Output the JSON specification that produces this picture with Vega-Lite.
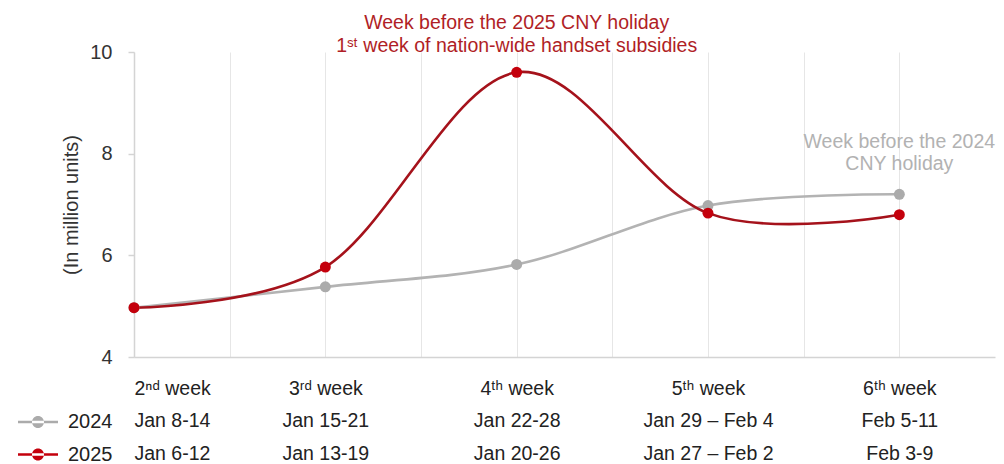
{
  "$schema": "https://vega.github.io/schema/vega-lite/v6.json",
  "autosize": {"type": "none"},
  "width": 861,
  "height": 305,
  "padding": {"left": 134, "top": 52, "right": 9, "bottom": 107},
  "background": "white",
  "config": {
    "font": "Liberation Sans",
    "view": {"stroke": null}
  },
  "data": {
    "values": [
      {"week": 2, "year": "2024", "units": 4.97, "note": ""},
      {"week": 3, "year": "2024", "units": 5.38, "note": ""},
      {"week": 4, "year": "2024", "units": 5.82, "note": ""},
      {"week": 5, "year": "2024", "units": 6.98, "note": ""},
      {"week": 6, "year": "2024", "units": 7.2, "note": "Week before the 2024\nCNY holiday"},
      {"week": 2, "year": "2025", "units": 4.97, "note": ""},
      {"week": 3, "year": "2025", "units": 5.77, "note": ""},
      {"week": 4, "year": "2025", "units": 9.6, "note": "Week before the 2025 CNY holiday\n1ˢᵗ week of nation-wide handset subsidies"},
      {"week": 5, "year": "2025", "units": 6.83, "note": ""},
      {"week": 6, "year": "2025", "units": 6.8, "note": ""}
    ]
  },
  "encoding": {
    "x": {
      "field": "week",
      "type": "quantitative",
      "scale": {"domain": [2, 6.5], "nice": false, "zero": false},
      "axis": {
        "title": null,
        "values": [2, 2.5, 3, 3.5, 4, 4.5, 5, 5.5, 6],
        "grid": true,
        "gridColor": "#e6e6e6",
        "gridWidth": 1,
        "ticks": false,
        "domain": true,
        "domainColor": "#d4d4d4",
        "domainWidth": 1.5,
        "labelFontSize": 19.5,
        "labelColor": "#222222",
        "labelPadding": 22,
        "labelLineHeight": 32.5,
        "labelBaseline": "top",
        "labelOverlap": false,
        "labelBound": false,
        "labelFlush": true,
        "labelFlushOffset": 0,
        "labelExpr": "datum.value == 2 ? ['2ⁿᵈ week', 'Jan 8-14', 'Jan 6-12'] : datum.value == 3 ? ['3ʳᵈ week', 'Jan 15-21', 'Jan 13-19'] : datum.value == 4 ? ['4ᵗʰ week', 'Jan 22-28', 'Jan 20-26'] : datum.value == 5 ? ['5ᵗʰ week', 'Jan 29 – Feb 4', 'Jan 27 – Feb 2'] : datum.value == 6 ? ['6ᵗʰ week', 'Feb 5-11', 'Feb 3-9'] : ''"
      }
    },
    "y": {
      "field": "units",
      "type": "quantitative",
      "scale": {"domain": [4, 10], "nice": false, "zero": false},
      "axis": {
        "title": "(In million units)",
        "titleFontSize": 20,
        "titleFontWeight": "normal",
        "titleColor": "#333333",
        "titlePadding": 8,
        "values": [4, 6, 8, 10],
        "grid": false,
        "domain": true,
        "domainColor": "#d4d4d4",
        "domainWidth": 1.5,
        "ticks": true,
        "tickColor": "#d4d4d4",
        "tickSize": 6,
        "tickWidth": 1.5,
        "labelFontSize": 20,
        "labelColor": "#333333",
        "labelPadding": 16
      }
    }
  },
  "layer": [
    {
      "mark": {"type": "line", "interpolate": "cardinal", "strokeWidth": 2.6},
      "encoding": {
        "color": {
          "field": "year",
          "type": "nominal",
          "scale": {"domain": ["2024", "2025"], "range": ["#b3b3b3", "#a5121b"]},
          "legend": null
        }
      }
    },
    {
      "layer": [
        {
          "mark": {"type": "point", "filled": true, "size": 120, "opacity": 1},
          "encoding": {
            "color": {
              "field": "year",
              "type": "nominal",
              "scale": {"domain": ["2024", "2025"], "range": ["#ababab", "#c4000c"]},
              "legend": {
                "title": null,
                "orient": "none",
                "legendX": -106,
                "legendY": 360,
                "padding": 0,
                "symbolType": "M-2,-0.12H2V0.12H-2Z M0.6,0A0.6,0.6,0,1,0,-0.6,0A0.6,0.6,0,1,0,0.6,0Z",
                "symbolSize": 400,
                "symbolStrokeWidth": 0,
                "symbolOpacity": 1,
                "labelFontSize": 20,
                "labelColor": "#222222",
                "labelOffset": 20,
                "rowPadding": 12.5
              }
            }
          }
        }
      ]
    },
    {
      "transform": [{"filter": "datum.year == '2025' && datum.note != ''"}],
      "mark": {"type": "text", "lineBreak": "\n", "baseline": "bottom", "align": "center", "dy": -39, "fontSize": 19.5, "lineHeight": 23, "fill": "#b01e26"},
      "encoding": {"text": {"field": "note"}}
    },
    {
      "transform": [{"filter": "datum.year == '2024' && datum.note != ''"}],
      "mark": {"type": "text", "lineBreak": "\n", "baseline": "bottom", "align": "center", "dy": -42, "fontSize": 19.5, "lineHeight": 22, "fill": "#b2b2b2"},
      "encoding": {"text": {"field": "note"}}
    }
  ],
  "resolve": {"scale": {"color": "independent"}, "legend": {"color": "independent"}}
}
